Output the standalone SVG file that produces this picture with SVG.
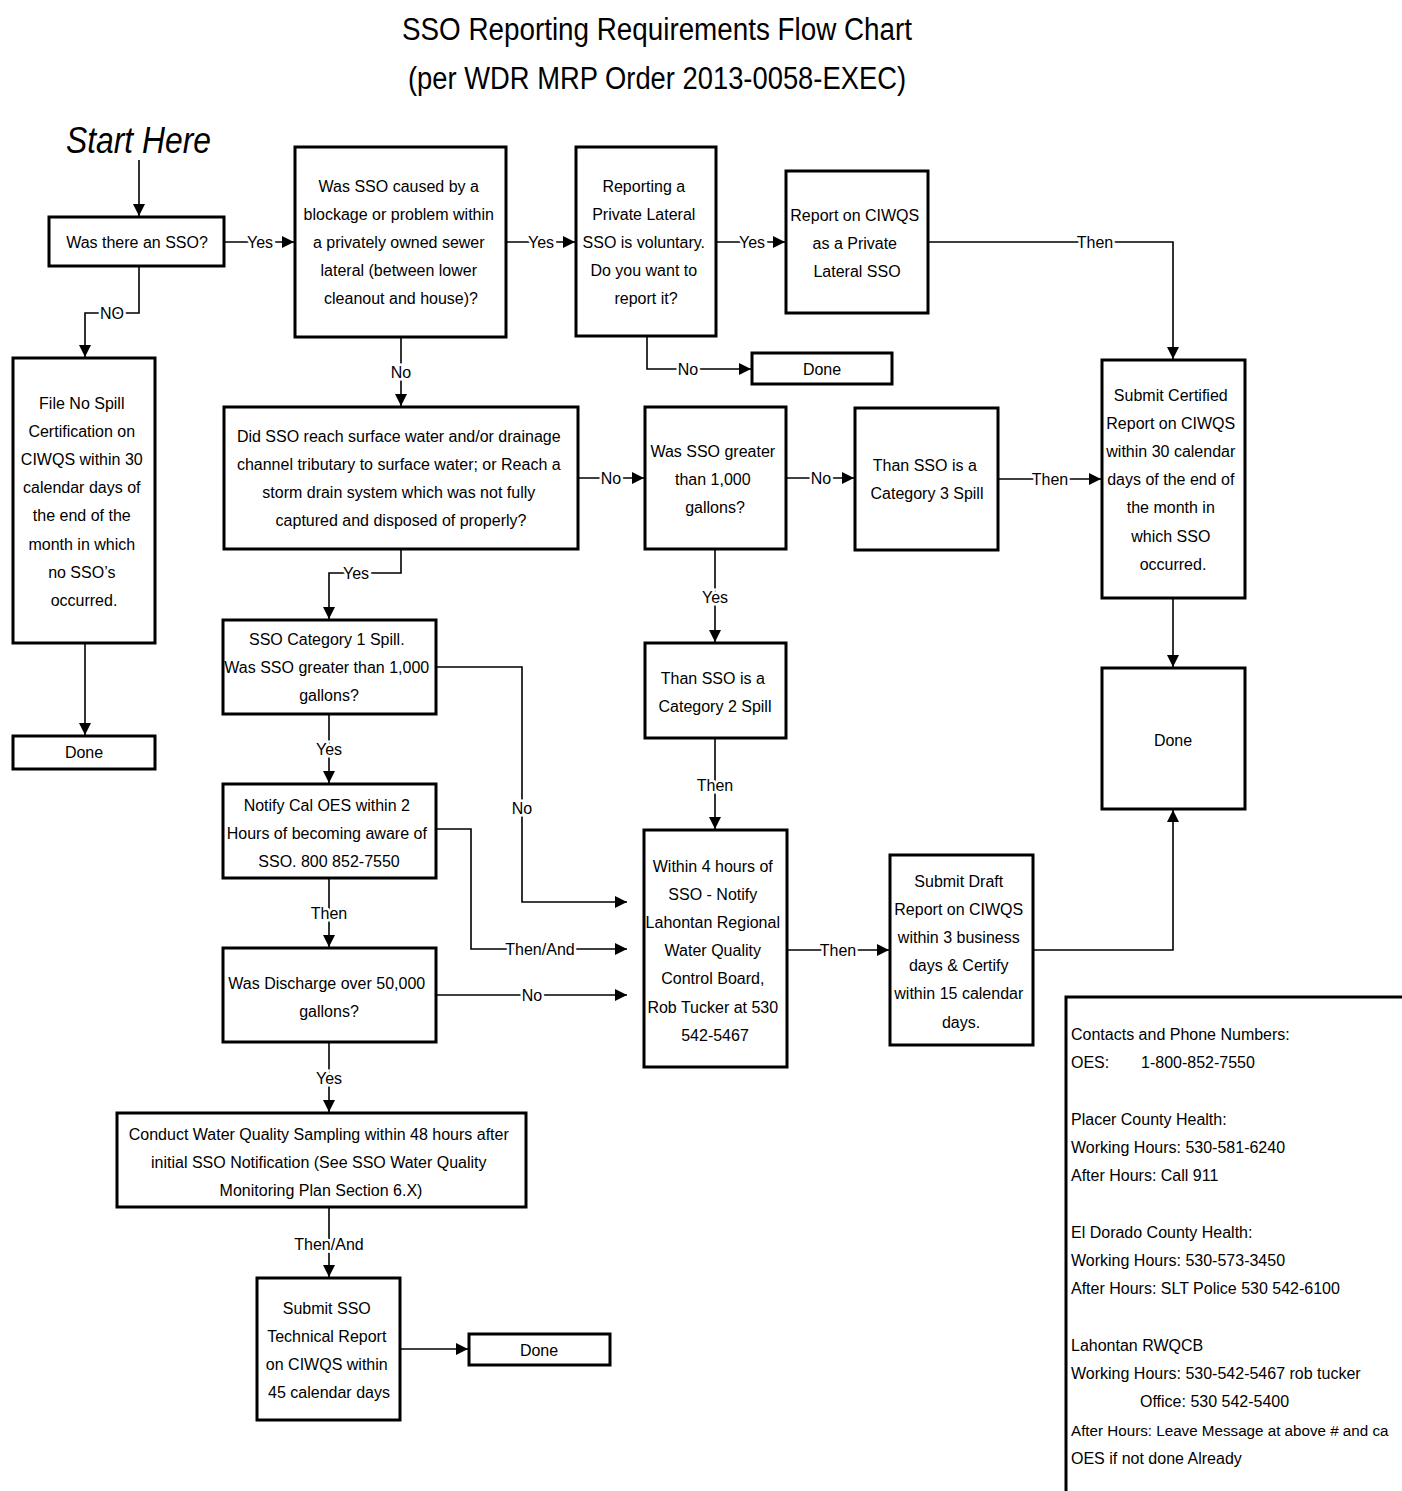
<svg xmlns="http://www.w3.org/2000/svg" width="1402" height="1491" viewBox="0 0 1402 1491">
  <style>
    .box { fill: #fff; stroke: #000; stroke-width: 3; }
    .t { font-family: "Liberation Sans", Arial, sans-serif; font-size: 16px; fill: #000; text-anchor: middle; }
    .tl { font-family: "Liberation Sans", Arial, sans-serif; font-size: 16px; fill: #000; text-anchor: start; }
    .tl.small { font-size: 15.2px; }
    .title { font-family: "Liberation Sans", Arial, sans-serif; font-size: 31px; fill: #000; text-anchor: middle; }
    .line { fill: none; stroke: #000; stroke-width: 1.6; }
    .lbl { font-family: "Liberation Sans", Arial, sans-serif; font-size: 16px; fill: #000; text-anchor: middle; stroke: #fff; stroke-width: 5; paint-order: stroke; }
  </style>
  <defs>
    <marker id="arrow" markerUnits="userSpaceOnUse" markerWidth="14" markerHeight="14" refX="12" refY="6" orient="auto">
      <path d="M0,0 L12,6 L0,12 z" fill="#000"/>
    </marker>
  </defs>

  <rect x="0" y="0" width="1402" height="1491" fill="#fff"/>

  <!-- heading -->
  <g id="title">
    <text class="title" x="657" y="40" textLength="510" lengthAdjust="spacingAndGlyphs">SSO Reporting Requirements Flow Chart</text>
    <text class="title" x="657" y="89" textLength="498" lengthAdjust="spacingAndGlyphs">(per WDR MRP Order 2013-0058-EXEC)</text>
  </g>
  <g id="start">
    <text x="66" y="153" font-family="'Liberation Sans', Arial, sans-serif" font-size="37" font-style="italic" textLength="145" lengthAdjust="spacingAndGlyphs">Start Here</text>
  </g>

  <!-- connectors -->
  <g id="connectors">
    <path class="line" d="M139,160 V216" marker-end="url(#arrow)"/>
    <path class="line" d="M224,242 H294" marker-end="url(#arrow)"/>
    <path class="line" d="M139,266 V313 H85 V357" marker-end="url(#arrow)"/>
    <path class="line" d="M85,643 V735" marker-end="url(#arrow)"/>
    <path class="line" d="M506,242 H575" marker-end="url(#arrow)"/>
    <path class="line" d="M401,337 V406" marker-end="url(#arrow)"/>
    <path class="line" d="M716,242 H785" marker-end="url(#arrow)"/>
    <path class="line" d="M647,336 V369 H751" marker-end="url(#arrow)"/>
    <path class="line" d="M928,242 H1173 V359" marker-end="url(#arrow)"/>
    <path class="line" d="M578,478 H644" marker-end="url(#arrow)"/>
    <path class="line" d="M786,478 H854" marker-end="url(#arrow)"/>
    <path class="line" d="M998,479 H1101" marker-end="url(#arrow)"/>
    <path class="line" d="M715,549 V642" marker-end="url(#arrow)"/>
    <path class="line" d="M715,738 V829" marker-end="url(#arrow)"/>
    <path class="line" d="M401,549 V573 H329 V619" marker-end="url(#arrow)"/>
    <path class="line" d="M436,667 H522 V902 H627" marker-end="url(#arrow)"/>
    <path class="line" d="M329,714 V783" marker-end="url(#arrow)"/>
    <path class="line" d="M436,829 H471 V949 H627" marker-end="url(#arrow)"/>
    <path class="line" d="M329,878 V947" marker-end="url(#arrow)"/>
    <path class="line" d="M436,995 H627" marker-end="url(#arrow)"/>
    <path class="line" d="M329,1042 V1112" marker-end="url(#arrow)"/>
    <path class="line" d="M787,950 H889" marker-end="url(#arrow)"/>
    <path class="line" d="M1033,950 H1173 V810" marker-end="url(#arrow)"/>
    <path class="line" d="M1173,598 V667" marker-end="url(#arrow)"/>
    <path class="line" d="M329,1207 V1277" marker-end="url(#arrow)"/>
    <path class="line" d="M400,1349 H468" marker-end="url(#arrow)"/>

    <text class="lbl" x="260" y="248">Yes</text>
    <text class="lbl" x="112" y="319">NO</text>
    <text class="lbl" x="541" y="248">Yes</text>
    <text class="lbl" x="401" y="378">No</text>
    <text class="lbl" x="752" y="248">Yes</text>
    <text class="lbl" x="688" y="375">No</text>
    <text class="lbl" x="1095" y="248">Then</text>
    <text class="lbl" x="611" y="484">No</text>
    <text class="lbl" x="821" y="484">No</text>
    <text class="lbl" x="1050" y="485">Then</text>
    <text class="lbl" x="715" y="603">Yes</text>
    <text class="lbl" x="715" y="791">Then</text>
    <text class="lbl" x="356" y="579">Yes</text>
    <text class="lbl" x="522" y="814">No</text>
    <text class="lbl" x="329" y="755">Yes</text>
    <text class="lbl" x="540" y="955">Then/And</text>
    <text class="lbl" x="329" y="919">Then</text>
    <text class="lbl" x="532" y="1001">No</text>
    <text class="lbl" x="329" y="1084">Yes</text>
    <text class="lbl" x="838" y="956">Then</text>
    <text class="lbl" x="329" y="1250">Then/And</text>
  </g>

  <!-- nodes -->
  <g id="n-was-there">
    <rect class="box" x="49" y="217" width="175" height="49"/>
    <text class="t" x="137" y="247.5">Was there an SSO?</text>
  </g>

  <g id="n-private-lateral">
    <rect class="box" x="295" y="147" width="211" height="190"/>
    <text class="t" x="401" y="191.5">
      <tspan x="401">Was SSO caused by a</tspan>
      <tspan x="401" dy="28">blockage or problem within</tspan>
      <tspan x="401" dy="28">a privately owned sewer</tspan>
      <tspan x="401" dy="28">lateral (between lower</tspan>
      <tspan x="401" dy="28">cleanout and house)?</tspan>
    </text>
  </g>

  <g id="n-voluntary">
    <rect class="box" x="576" y="147" width="140" height="189"/>
    <text class="t" x="646" y="191.5">
      <tspan x="646">Reporting a</tspan>
      <tspan x="646" dy="28">Private Lateral</tspan>
      <tspan x="646" dy="28">SSO is voluntary.</tspan>
      <tspan x="646" dy="28">Do you want to</tspan>
      <tspan x="646" dy="28">report it?</tspan>
    </text>
  </g>

  <g id="n-report-private">
    <rect class="box" x="786" y="171" width="142" height="142"/>
    <text class="t" x="857" y="220.5">
      <tspan x="857">Report on CIWQS</tspan>
      <tspan x="857" dy="28">as a Private</tspan>
      <tspan x="857" dy="28">Lateral SSO</tspan>
    </text>
  </g>

  <g id="n-done-private">
    <rect class="box" x="752" y="353" width="140" height="31"/>
    <text class="t" x="822" y="374.5">Done</text>
  </g>

  <g id="n-no-spill">
    <rect class="box" x="13" y="358" width="142" height="285"/>
    <text class="t" x="84" y="408.5">
      <tspan x="84">File No Spill</tspan>
      <tspan x="84" dy="28.2">Certification on</tspan>
      <tspan x="84" dy="28.2">CIWQS within 30</tspan>
      <tspan x="84" dy="28.2">calendar days of</tspan>
      <tspan x="84" dy="28.2">the end of the</tspan>
      <tspan x="84" dy="28.2">month in which</tspan>
      <tspan x="84" dy="28.2">no SSO’s</tspan>
      <tspan x="84" dy="28.2">occurred.</tspan>
    </text>
  </g>

  <g id="n-done-no-spill">
    <rect class="box" x="13" y="736" width="142" height="33"/>
    <text class="t" x="84" y="758">Done</text>
  </g>

  <g id="n-surface-water">
    <rect class="box" x="224" y="407" width="354" height="142"/>
    <text class="t" x="401" y="441.5">
      <tspan x="401">Did SSO reach surface water and/or drainage</tspan>
      <tspan x="401" dy="28.3">channel tributary to surface water; or Reach a</tspan>
      <tspan x="401" dy="28.3">storm drain system which was not fully</tspan>
      <tspan x="401" dy="28.3">captured and disposed of properly?</tspan>
    </text>
  </g>

  <g id="n-greater-1000">
    <rect class="box" x="645" y="407" width="141" height="142"/>
    <text class="t" x="715" y="456.5">
      <tspan x="715">Was SSO greater</tspan>
      <tspan x="715" dy="28">than 1,000</tspan>
      <tspan x="715" dy="28">gallons?</tspan>
    </text>
  </g>

  <g id="n-category-3">
    <rect class="box" x="855" y="408" width="143" height="142"/>
    <text class="t" x="927" y="470.5">
      <tspan x="927">Than SSO is a</tspan>
      <tspan x="927" dy="28">Category 3 Spill</tspan>
    </text>
  </g>

  <g id="n-certified">
    <rect class="box" x="1102" y="360" width="143" height="238"/>
    <text class="t" x="1173" y="400.5">
      <tspan x="1173">Submit Certified</tspan>
      <tspan x="1173" dy="28.2">Report on CIWQS</tspan>
      <tspan x="1173" dy="28.2">within 30 calendar</tspan>
      <tspan x="1173" dy="28.2">days of the end of</tspan>
      <tspan x="1173" dy="28.2">the month in</tspan>
      <tspan x="1173" dy="28.2">which SSO</tspan>
      <tspan x="1173" dy="28.2">occurred.</tspan>
    </text>
  </g>

  <g id="n-done-certified">
    <rect class="box" x="1102" y="668" width="143" height="141"/>
    <text class="t" x="1173" y="745.5">Done</text>
  </g>

  <g id="n-category-1">
    <rect class="box" x="223" y="620" width="213" height="94"/>
    <text class="t" x="329" y="644.5">
      <tspan x="329">SSO Category 1 Spill.</tspan>
      <tspan x="329" dy="28">Was SSO greater than 1,000</tspan>
      <tspan x="329" dy="28">gallons?</tspan>
    </text>
  </g>

  <g id="n-category-2">
    <rect class="box" x="645" y="643" width="141" height="95"/>
    <text class="t" x="715" y="683.5">
      <tspan x="715">Than SSO is a</tspan>
      <tspan x="715" dy="28">Category 2 Spill</tspan>
    </text>
  </g>

  <g id="n-cal-oes">
    <rect class="box" x="223" y="784" width="213" height="94"/>
    <text class="t" x="329" y="810.5">
      <tspan x="329">Notify Cal OES within 2</tspan>
      <tspan x="329" dy="28">Hours of becoming aware of</tspan>
      <tspan x="329" dy="28">SSO.  800 852-7550</tspan>
    </text>
  </g>

  <g id="n-lahontan">
    <rect class="box" x="644" y="830" width="143" height="237"/>
    <text class="t" x="715" y="871.5">
      <tspan x="715">Within 4 hours of</tspan>
      <tspan x="715" dy="28.2">SSO - Notify</tspan>
      <tspan x="715" dy="28.2">Lahontan Regional</tspan>
      <tspan x="715" dy="28.2">Water Quality</tspan>
      <tspan x="715" dy="28.2">Control Board,</tspan>
      <tspan x="715" dy="28.2">Rob Tucker at 530</tspan>
      <tspan x="715" dy="28.2">542-5467</tspan>
    </text>
  </g>

  <g id="n-draft-report">
    <rect class="box" x="890" y="855" width="143" height="190"/>
    <text class="t" x="961" y="886.5">
      <tspan x="961">Submit Draft</tspan>
      <tspan x="961" dy="28.2">Report on CIWQS</tspan>
      <tspan x="961" dy="28.2">within 3 business</tspan>
      <tspan x="961" dy="28.2">days &amp; Certify</tspan>
      <tspan x="961" dy="28.2">within 15 calendar</tspan>
      <tspan x="961" dy="28.2">days.</tspan>
    </text>
  </g>

  <g id="n-over-50000">
    <rect class="box" x="223" y="948" width="213" height="94"/>
    <text class="t" x="329" y="988.5">
      <tspan x="329">Was Discharge over 50,000</tspan>
      <tspan x="329" dy="28">gallons?</tspan>
    </text>
  </g>

  <g id="n-sampling">
    <rect class="box" x="117" y="1113" width="409" height="94"/>
    <text class="t" x="321" y="1139.5">
      <tspan x="321">Conduct Water Quality Sampling within 48 hours after</tspan>
      <tspan x="321" dy="28">initial SSO Notification (See SSO Water Quality</tspan>
      <tspan x="321" dy="28">Monitoring Plan Section 6.X)</tspan>
    </text>
  </g>

  <g id="n-technical-report">
    <rect class="box" x="257" y="1278" width="143" height="142"/>
    <text class="t" x="329" y="1313.5">
      <tspan x="329">Submit SSO</tspan>
      <tspan x="329" dy="28.3">Technical Report</tspan>
      <tspan x="329" dy="28.3">on CIWQS within</tspan>
      <tspan x="329" dy="28.3">45 calendar days</tspan>
    </text>
  </g>

  <g id="n-done-technical">
    <rect class="box" x="469" y="1334" width="141" height="31"/>
    <text class="t" x="539" y="1355.5">Done</text>
  </g>

  <g id="n-contacts">
    <rect class="box" x="1066" y="997" width="400" height="560"/>
    <text class="tl" x="1071" y="1039.5">Contacts and Phone Numbers:</text>
    <text class="tl" x="1071" y="1067.5">OES:</text>
    <text class="tl" x="1141" y="1067.5">1-800-852-7550</text>
    <text class="tl" x="1071" y="1124.5">Placer County Health:</text>
    <text class="tl" x="1071" y="1152.5">Working Hours: 530-581-6240</text>
    <text class="tl" x="1071" y="1180.5">After Hours:  Call 911</text>
    <text class="tl" x="1071" y="1237.5">El Dorado County Health:</text>
    <text class="tl" x="1071" y="1265.5">Working Hours: 530-573-3450</text>
    <text class="tl" x="1071" y="1293.5">After Hours: SLT Police 530 542-6100</text>
    <text class="tl" x="1071" y="1350.5">Lahontan  RWQCB</text>
    <text class="tl" x="1071" y="1378.5">Working Hours: 530-542-5467 rob tucker</text>
    <text class="tl" x="1140" y="1406.5">Office:  530 542-5400</text>
    <text class="tl small" x="1071" y="1435.5">After Hours: Leave Message at above # and ca</text>
    <text class="tl" x="1071" y="1463.5">OES if not done Already</text>
  </g>
</svg>
